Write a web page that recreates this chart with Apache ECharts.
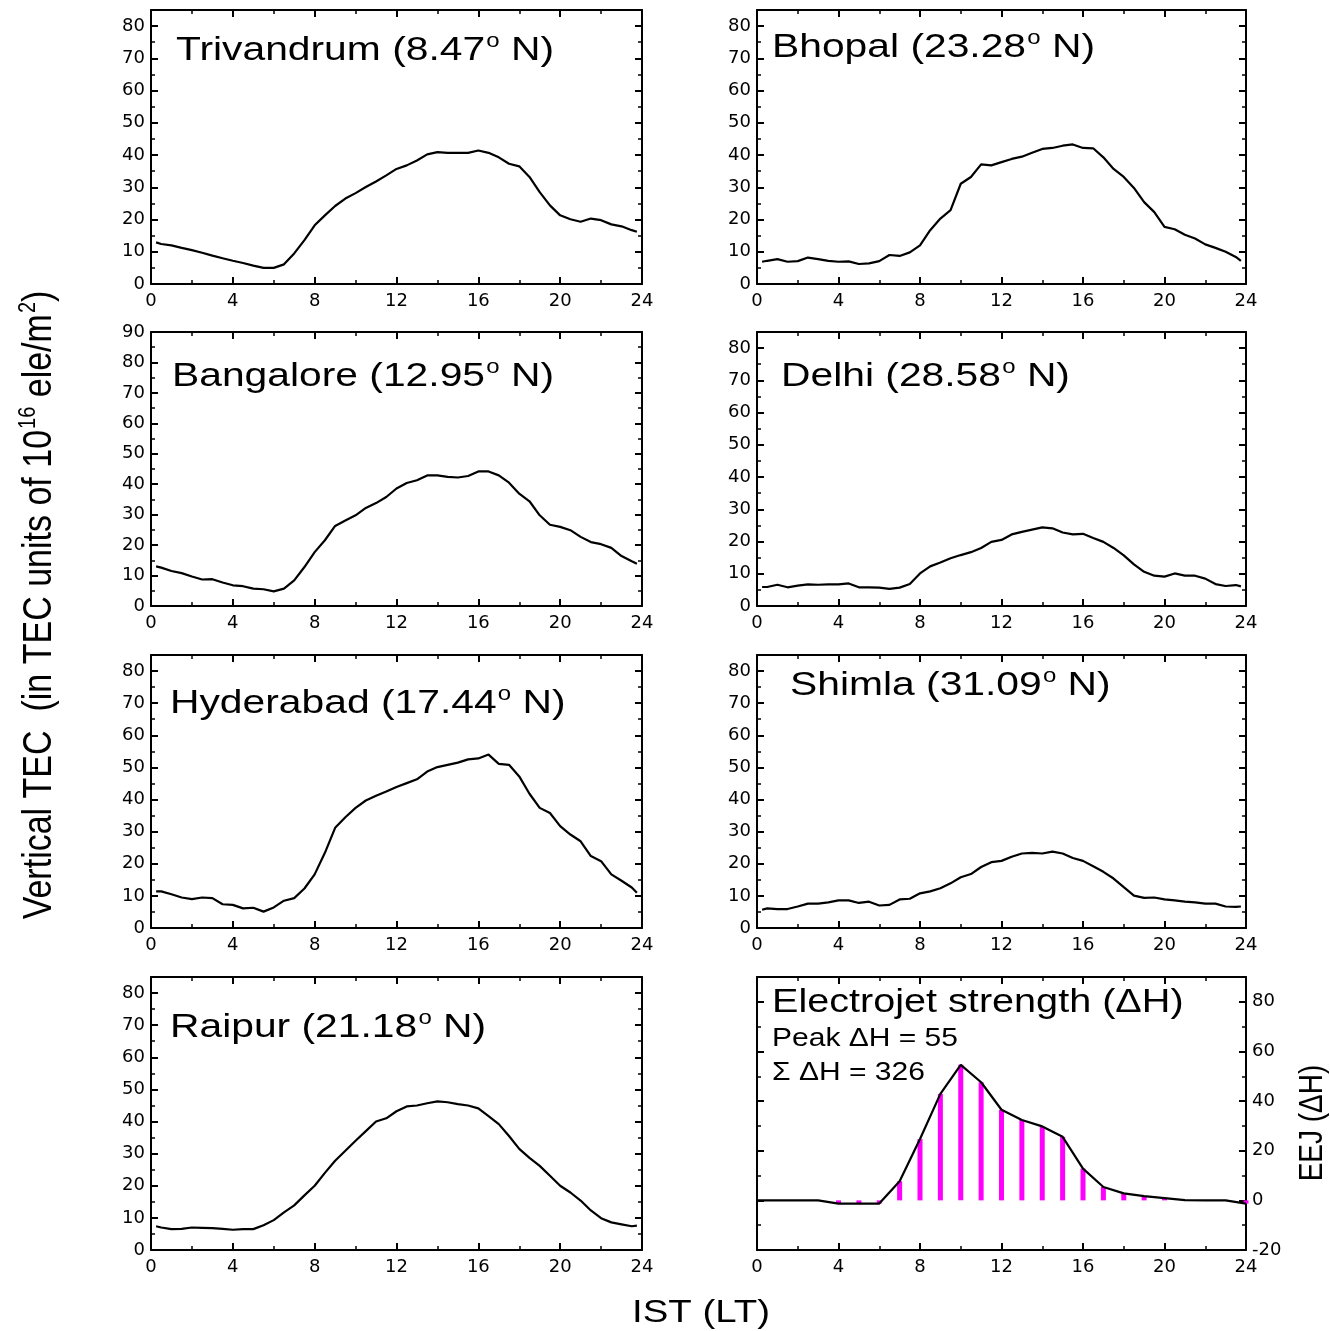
<!DOCTYPE html>
<html>
<head>
<meta charset="utf-8">
<script src="https://cdn.jsdelivr.net/npm/echarts@6/dist/echarts.min.js"></script>
<style>
  html, body { margin: 0; padding: 0; background: #fff; }
  #chart { width: 1330px; height: 1331px; }
</style>
</head>
<body>
<div id="chart"></div>
<script>
// local time (IST) of each TEC sample, hours
const hours = [0.25, 0.5, 1, 1.5, 2, 2.5, 3, 3.5, 4, 4.5, 5, 5.5, 6, 6.5, 7, 7.5, 8, 8.5, 9, 9.5,
  10, 10.5, 11, 11.5, 12, 12.5, 13, 13.5, 14, 14.5, 15, 15.5, 16, 16.5, 17, 17.5, 18, 18.5, 19, 19.5,
  20, 20.5, 21, 21.5, 22, 22.5, 23, 23.5, 23.75]

// vertical TEC, 10^16 ele/m^2
const trivandrum = [12.9, 12.4, 12.0, 11.2, 10.5, 9.7, 8.8, 8.0, 7.2, 6.5, 5.7, 5.0, 5.0, 6.1, 9.5, 13.6, 18.2, 21.3, 24.2, 26.5,
  28.2, 30.1, 31.8, 33.7, 35.7, 36.8, 38.3, 40.2, 40.9, 40.7, 40.7, 40.7, 41.4, 40.7, 39.3, 37.3, 36.5, 33.2, 28.5, 24.4,
  21.3, 20.1, 19.3, 20.3, 19.8, 18.5, 17.9, 16.7, 16.2]
const bhopal = [6.9, 7.2, 7.7, 6.9, 7.1, 8.2, 7.7, 7.2, 6.9, 7.0, 6.2, 6.4, 7.1, 9.0, 8.7, 9.8, 12.0, 16.7, 20.3, 22.9,
  31.1, 33.2, 37.1, 36.8, 37.8, 38.8, 39.5, 40.7, 41.9, 42.2, 42.9, 43.3, 42.2, 42.1, 39.3, 35.7, 33.2, 29.8, 25.4, 22.3,
  17.7, 17.0, 15.3, 14.1, 12.3, 11.2, 10.0, 8.4, 7.2]
const bangalore = [13.0, 12.6, 11.5, 10.8, 9.7, 8.7, 8.8, 7.7, 6.8, 6.5, 5.7, 5.5, 4.8, 5.7, 8.4, 12.8, 17.7, 21.6, 26.3, 28.1,
  29.8, 32.2, 33.8, 35.8, 38.6, 40.4, 41.3, 42.9, 42.9, 42.4, 42.2, 42.7, 44.2, 44.2, 42.9, 40.5, 36.9, 34.4, 29.8, 26.7,
  26.0, 24.9, 22.7, 21.0, 20.3, 19.1, 16.4, 14.7, 13.9]
const delhi = [5.9, 5.9, 6.6, 5.8, 6.3, 6.7, 6.6, 6.7, 6.7, 7.0, 5.8, 5.8, 5.7, 5.3, 5.7, 6.8, 10.1, 12.3, 13.5, 14.8,
  15.8, 16.7, 18.0, 19.9, 20.5, 22.2, 23.0, 23.7, 24.4, 24.1, 22.8, 22.2, 22.4, 21.1, 19.9, 18.0, 15.7, 12.9, 10.6, 9.4,
  9.1, 10.1, 9.4, 9.4, 8.5, 6.8, 6.2, 6.5, 6.1]
const hyderabad = [11.4, 11.4, 10.5, 9.5, 9.0, 9.5, 9.3, 7.4, 7.2, 6.1, 6.3, 5.1, 6.4, 8.5, 9.3, 12.3, 16.7, 23.4, 31.2, 34.5,
  37.4, 39.7, 41.2, 42.5, 43.9, 45.1, 46.3, 48.7, 50.1, 50.8, 51.5, 52.5, 52.8, 54.0, 51.1, 50.8, 47.2, 41.8, 37.4, 35.8,
  31.7, 29.1, 27.0, 22.4, 20.8, 16.7, 14.7, 12.6, 11.0]
const shimla = [5.7, 6.1, 5.9, 5.9, 6.7, 7.6, 7.6, 8.0, 8.6, 8.6, 7.8, 8.2, 7.0, 7.2, 8.9, 9.1, 10.8, 11.4, 12.4, 13.9,
  15.8, 16.8, 19.0, 20.5, 20.9, 22.2, 23.2, 23.4, 23.2, 23.8, 23.2, 21.8, 20.9, 19.2, 17.5, 15.4, 12.7, 10.1, 9.4, 9.5,
  8.9, 8.6, 8.2, 8.0, 7.6, 7.6, 6.7, 6.6, 6.7]
const raipur = [7.4, 7.0, 6.5, 6.6, 7.0, 6.9, 6.8, 6.6, 6.3, 6.5, 6.5, 7.7, 9.3, 11.7, 13.9, 17.0, 20.0, 24.0, 27.8, 30.9,
  34.0, 37.0, 40.0, 41.0, 43.2, 44.7, 45.0, 45.7, 46.3, 46.0, 45.4, 45.0, 44.1, 41.7, 39.2, 35.5, 31.5, 28.7, 26.2, 23.1,
  20.0, 17.9, 15.4, 12.3, 9.9, 8.6, 8.0, 7.4, 7.6]

// hourly electrojet strength, nT
const eejHours = [0, 1, 2, 3, 4, 5, 6, 7, 8, 9, 10, 11, 12, 13, 14, 15, 16, 17, 18, 19, 20, 21, 22, 23, 24]
const eejValues = [0, 0, 0, 0, -1.3, -1.3, -1.3, 7.7, 24.7, 42.9, 54.6, 47.6, 36.5, 32.4, 29.8, 25.6, 12.8, 5.4, 2.8, 1.7, 0.9, 0.1, 0, 0, -1.3]

const stations = [
  { name: 'Trivandrum', lat: '8.47', values: trivandrum },
  { name: 'Bhopal', lat: '23.28', values: bhopal },
  { name: 'Bangalore', lat: '12.95', values: bangalore },
  { name: 'Delhi', lat: '28.58', values: delhi },
  { name: 'Hyderabad', lat: '17.44', values: hyderabad },
  { name: 'Shimla', lat: '31.09', values: shimla },
  { name: 'Raipur', lat: '21.18', values: raipur }
]

// panel layout (grid 7 is the electrojet panel)
const panels = [
  { left: 151, top: 10, width: 491, height: 274, yMax: 85, tx: 176, ty: 51 },
  { left: 757, top: 10, width: 489, height: 274, yMax: 85, tx: 772, ty: 48 },
  { left: 151, top: 332, width: 491, height: 274, yMax: 90, tx: 172, ty: 377 },
  { left: 757, top: 332, width: 489, height: 274, yMax: 85, tx: 781, ty: 377 },
  { left: 151, top: 655, width: 491, height: 273, yMax: 85, tx: 170, ty: 704 },
  { left: 757, top: 655, width: 489, height: 273, yMax: 85, tx: 790, ty: 686 },
  { left: 151, top: 977, width: 491, height: 273, yMax: 85, tx: 170, ty: 1028 },
  { left: 757, top: 977, width: 489, height: 273, yMin: -20, yMax: 90, tx: 772, ty: 1003 }
]

const LABEL_FONT = 'DejaVu Sans'
const TEXT_FONT = 'Liberation Sans'
const STRETCH = 1.2

const axisLine = { show: true, onZero: false, lineStyle: { color: '#000', width: 2 } }
const axisTick = { show: true, inside: true, length: 7, lineStyle: { color: '#000', width: 2 } }
const minorTick = { show: true, splitNumber: 2, length: 4, lineStyle: { color: '#000', width: 1.5 } }
const labelStyle = { color: '#000', fontFamily: LABEL_FONT, fontSize: 18 }

const grids = []
const xAxes = []
const yAxes = []
const series = []

panels.forEach((p, g) => {
  grids.push({ left: p.left, top: p.top, width: p.width, height: p.height, containLabel: false })
  const isEej = g === 7
  const yStep = isEej ? 20 : 10
  ;['bottom', 'top'].forEach(pos => {
    xAxes.push({
      type: 'value', gridIndex: g, position: pos, min: 0, max: 24, interval: 4,
      axisLine, axisTick, minorTick, splitLine: { show: false },
      axisLabel: { show: pos === 'bottom', margin: 8, ...labelStyle }
    })
  })
  ;['left', 'right'].forEach(pos => {
    yAxes.push({
      type: 'value', gridIndex: g, position: pos, min: p.yMin || 0, max: p.yMax, interval: yStep,
      axisLine, axisTick, minorTick, splitLine: { show: false },
      axisLabel: {
        show: isEej ? pos === 'right' : pos === 'left',
        margin: 6, ...labelStyle,
        formatter: v => (v % yStep === 0 ? String(v) : '')
      }
    })
  })
})

stations.forEach((s, g) => {
  series.push({
    type: 'line', xAxisIndex: 2 * g, yAxisIndex: 2 * g,
    data: hours.map((h, i) => [h, s.values[i]]),
    showSymbol: false, symbol: 'none',
    lineStyle: { color: '#000', width: 2.2 }
  })
})

const eejData = eejHours.map((h, i) => [h, eejValues[i]])
series.push({
  type: 'bar', xAxisIndex: 14, yAxisIndex: 15, data: eejData,
  barWidth: 5, itemStyle: { color: '#ff00ff' }, z: 2
})
series.push({
  type: 'line', xAxisIndex: 14, yAxisIndex: 15, data: eejData,
  showSymbol: false, symbol: 'none', z: 3,
  lineStyle: { color: '#000', width: 2.2 }
})

const rich = size => ({
  a: { fontFamily: TEXT_FONT, fontSize: size, fill: '#000', lineHeight: size + 6 },
  s: { fontFamily: TEXT_FONT, fontSize: Math.round(size * 0.6), fill: '#000', verticalAlign: 'top', padding: [0, 0, 0, 1] }
})

const graphic = []
stations.forEach((s, g) => {
  const p = panels[g]
  graphic.push({
    type: 'text', x: p.tx, y: p.ty, scaleX: STRETCH,
    style: {
      text: `{a|${s.name} (${s.lat}}{s|o}{a| N)}`, rich: rich(34),
      align: 'left', verticalAlign: 'middle'
    }
  })
})
graphic.push(
  {
    type: 'text', x: 772, y: 1003, scaleX: STRETCH,
    style: { text: 'Electrojet strength (ΔH)', font: `33px "${TEXT_FONT}"`, fill: '#000', align: 'left', verticalAlign: 'middle' }
  },
  {
    type: 'text', x: 772, y: 1039, scaleX: STRETCH,
    style: { text: 'Peak ΔH = 55', font: `25px "${TEXT_FONT}"`, fill: '#000', align: 'left', verticalAlign: 'middle' }
  },
  {
    type: 'text', x: 772, y: 1073, scaleX: STRETCH,
    style: { text: 'Σ ΔH = 326', font: `25px "${TEXT_FONT}"`, fill: '#000', align: 'left', verticalAlign: 'middle' }
  },
  {
    type: 'text', x: 40, y: 605, rotation: Math.PI / 2, scaleY: STRETCH,
    style: {
      text: '{a|Vertical TEC  (in TEC units of 10}{s|16}{a| ele/m}{s|2}{a|)}', rich: rich(34),
      align: 'center', verticalAlign: 'middle'
    }
  },
  {
    type: 'text', x: 701, y: 1313, scaleX: STRETCH,
    style: { text: 'IST (LT)', font: `32px "${TEXT_FONT}"`, fill: '#000', align: 'center', verticalAlign: 'middle' }
  },
  {
    type: 'text', x: 1313, y: 1123, rotation: Math.PI / 2, scaleY: STRETCH,
    style: { text: 'EEJ (ΔH)', font: `28px "${TEXT_FONT}"`, fill: '#000', align: 'center', verticalAlign: 'middle' }
  }
)

const chart = echarts.init(document.getElementById('chart'), null, { renderer: 'canvas' })
chart.setOption({
  backgroundColor: '#fff',
  animation: false,
  grid: grids,
  xAxis: xAxes,
  yAxis: yAxes,
  series,
  graphic
})
</script>
</body>
</html>
